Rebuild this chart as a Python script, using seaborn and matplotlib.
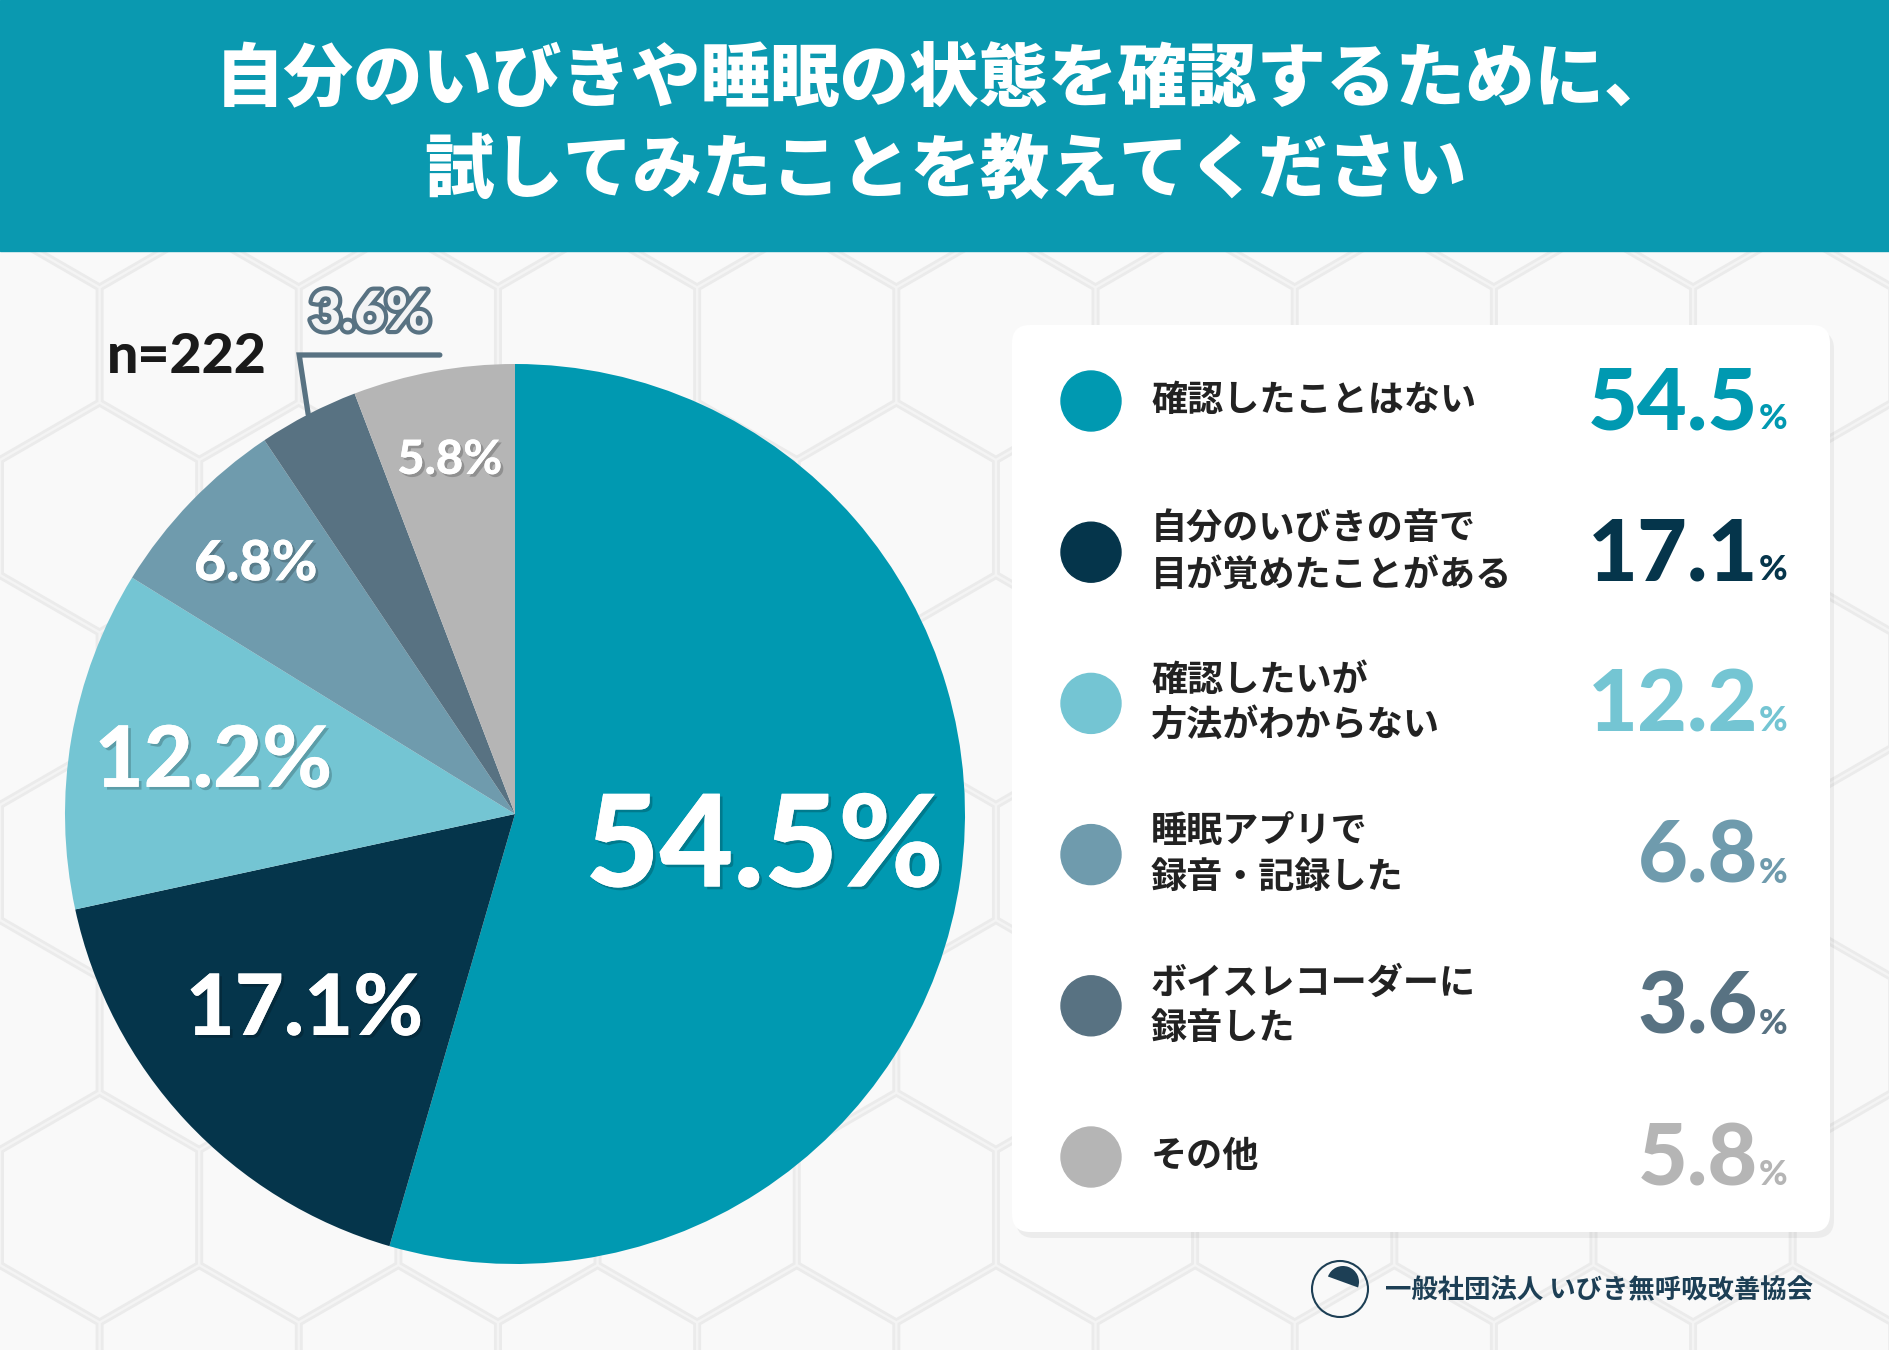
import numpy as np
import matplotlib
matplotlib.use("Agg")
import matplotlib.pyplot as plt
import matplotlib.patheffects as pe
from matplotlib.patches import Rectangle, FancyBboxPatch, Circle, RegularPolygon, Wedge
import seaborn as sns

# data
title_lines = ["自分のいびきや睡眠の状態を確認するために、", "試してみたことを教えてください"]
categories = [
    "確認したことはない",
    "自分のいびきの音で\n目が覚めたことがある",
    "確認したいが\n方法がわからない",
    "睡眠アプリで\n録音・記録した",
    "ボイスレコーダーに\n録音した",
    "その他",
]
shares = [54.5, 17.1, 12.2, 6.8, 3.6, 5.8]
sample_size = 222
org_name = "一般社団法人 いびき無呼吸改善協会"

sns.set_theme(style="white")
plt.rcParams["font.family"] = ["Noto Sans CJK JP", "DejaVu Sans"]
num_font = ["Lato", "Noto Sans CJK JP", "DejaVu Sans"]

palette = sns.color_palette(["#0099b1", "#05354b", "#74c5d3", "#6f9bad", "#587282", "#b5b5b5"])
teal = "#0a99b0"
navy_text = "#1d3f55"

W, H = 1890, 1350
fig = plt.figure(figsize=(18.9, 13.5), dpi=100, facecolor="#f4f4f4")
bg = fig.add_axes([0, 0, 1, 1])
bg.set_xlim(0, W)
bg.set_ylim(H, 0)
bg.axis("off")

# faint honeycomb backdrop
R = 115
dx = np.sqrt(3) * R
for row in range(-1, 11):
    for col in range(-1, 12):
        cx = col * dx + (row % 2) * dx / 2
        cy = row * 1.5 * R
        bg.add_patch(RegularPolygon((cx, cy), 6, radius=R - 3, orientation=0,
                                    facecolor="#f9f9f9", edgecolor="#ebebeb", lw=2, zorder=0))

# header band
bg.add_patch(Rectangle((0, 0), W, 251, color=teal, zorder=1))
bg.text(W / 2, 80, title_lines[0], ha="center", va="center", fontsize=50,
        weight="heavy", color="white", zorder=2)
bg.text(W / 2, 171, title_lines[1], ha="center", va="center", fontsize=50,
        weight="heavy", color="white", zorder=2)

# pie
pcx, pcy, pr = 515, 814, 450
pax = fig.add_axes([(pcx - pr) / W, 1 - (pcy + pr) / H, 2 * pr / W, 2 * pr / H])
wedges, _ = pax.pie(shares, colors=palette, startangle=90, counterclock=False,
                    radius=1, wedgeprops=dict(linewidth=0))
pax.set_xlim(-1, 1)
pax.set_ylim(-1, 1)
pax.axis("off")

label_r = [0.56, 0.64, 0.68, 0.80, None, 0.80]
label_fs = [92, 61, 61, 40, 39, 34]
shadow = [pe.withSimplePatchShadow(offset=(2, -2), shadow_rgbFace="black", alpha=0.2), pe.Normal()]
for w, v, r, fs in zip(wedges, shares, label_r, label_fs):
    ang = np.deg2rad((w.theta1 + w.theta2) / 2)
    if r is None:
        # small slice: outside label with leader line
        sx, sy = np.cos(ang), np.sin(ang)
        pax.plot([sx, sx - 0.02, -0.167], [sy, 1.02, 1.02], color=palette[4], lw=3.8,
                 clip_on=False, solid_joinstyle="miter")
        pax.text(-0.322, 1.11, f"{v}%", ha="center", va="center", fontsize=fs,
                 weight="black", family=num_font, color="#f2f3f4",
                 path_effects=[pe.withStroke(linewidth=6, foreground=palette[4])])
        continue
    pax.text(r * np.cos(ang), r * np.sin(ang), f"{v}%", ha="center", va="center",
             fontsize=fs, weight="black", family=num_font, color="white", path_effects=shadow)

bg.text(187, 357, f"n={sample_size}", ha="center", va="center", fontsize=40,
        weight="black", family=num_font, color="#1a1a1a", zorder=3)

# legend card
bg.add_patch(FancyBboxPatch((1016, 331), 818, 907, boxstyle="round,pad=0,rounding_size=18",
                            facecolor="black", alpha=0.05, lw=0, zorder=2))
bg.add_patch(FancyBboxPatch((1012, 325), 818, 907, boxstyle="round,pad=0,rounding_size=18",
                            facecolor="white", edgecolor="none", zorder=3))
row_y = np.linspace(401, 1157, len(categories))
for y, cat, v, c in zip(row_y, categories, shares, palette):
    bg.add_patch(Circle((1091, y), 30, color=c, zorder=4))
    bg.text(1151, y, cat, ha="left", va="center", fontsize=26, weight="bold",
            color="#222222", linespacing=1.3, zorder=4)
    bg.text(1758, y + 28, f"{v}", ha="right", va="baseline", fontsize=62,
            weight="black", family=num_font, color=c, zorder=4)
    bg.text(1759, y + 28, "%", ha="left", va="baseline", fontsize=25,
            weight="black", family=num_font, color=c, zorder=4)

# footer logo and organisation
bg.add_patch(Circle((1340, 1289), 28, facecolor="none", edgecolor=navy_text, lw=1.5, zorder=4))
bg.add_patch(Wedge((1343, 1282), 16, 200, 20, facecolor=navy_text, lw=0, zorder=4))
bg.text(1385, 1291, org_name, ha="left", va="center", fontsize=19, weight="bold",
        color=navy_text, zorder=4)

fig.savefig("out.png", dpi=100, facecolor=fig.get_facecolor())
